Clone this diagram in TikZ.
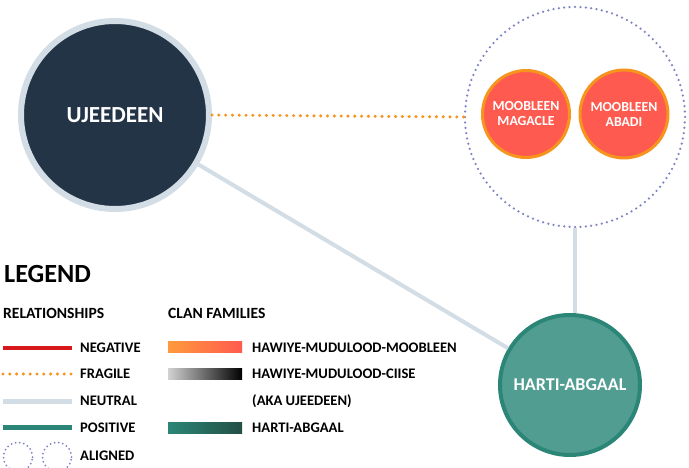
\documentclass[tikz,border=0pt]{standalone}
\usepackage{fontspec}
\setmainfont{Carlito}
\usetikzlibrary{shapes.geometric}
\definecolor{navy}{HTML}{243447}
\definecolor{paleblue}{HTML}{D3DDE5}
\definecolor{coral}{HTML}{FF5A4F}
\definecolor{amber}{HTML}{F7941D}
\definecolor{tealfill}{HTML}{529D91}
\definecolor{tealline}{HTML}{2B8677}
\definecolor{tealdark}{HTML}{234F45}
\definecolor{lilac}{HTML}{7E84C4}
\definecolor{negred}{HTML}{D7191C}
\definecolor{orangeA}{HTML}{FF9A3C}
\definecolor{redB}{HTML}{FF5A4F}
\tikzset{
  x=1pt, y=-1pt,
  lbl/.style={anchor=west, inner sep=0pt, font=\bfseries\fontsize{14.6}{16}\selectfont, text=black},
  hdr/.style={anchor=west, inner sep=0pt, font=\bfseries\fontsize{15.6}{17}\selectfont, text=black},
  neutralline/.style={draw=paleblue, line width=4pt},
  fragileline/.style={draw=amber, line width=3.4pt, line cap=round, dash pattern=on 0pt off 6.8pt},
  alignedring/.style={draw=lilac, line width=2.5pt, line cap=round, dash pattern=on 0pt off 5.4pt},
  clanbar/.style={minimum width=74pt, minimum height=11pt, inner sep=0pt, anchor=west},
}
\begin{document}
\begin{tikzpicture}
\useasboundingbox[fill=white] (0,0) rectangle (689,468);
% main circles
\node[circle, fill=navy, draw=paleblue, line width=6pt, minimum size=188pt, inner sep=0pt,
  text=white, font=\bfseries\fontsize{23}{26}\selectfont] (uj) at (115,115) {UJEEDEEN};
\node[circle, alignedring, minimum size=220pt, inner sep=0pt] (aligned) at (575,117) {};
\node[circle, fill=coral, draw=amber, line width=3pt, minimum size=87pt, inner sep=0pt,
  text=white, align=center, font=\bfseries\fontsize{13.8}{15}\selectfont] (magacle) at (526,114) {MOOBLEEN\\MAGACLE};
\node[circle, fill=coral, draw=amber, line width=3pt, minimum size=88pt, inner sep=0pt,
  text=white, align=center, font=\bfseries\fontsize{13.8}{15}\selectfont] (abadi) at (624,114) {MOOBLEEN\\ABADI};
\node[circle, fill=tealfill, draw=tealline, line width=4pt, minimum size=140pt, inner sep=0pt,
  text=white, font=\bfseries\fontsize{18}{20}\selectfont] (harti) at (570,385) {HARTI-ABGAAL};
% connectors
\draw[fragileline] (uj.east) -- (aligned.west);
\draw[neutralline] (uj) -- (harti);
\draw[neutralline] (aligned.south) -- (aligned.south |- harti.north);
% legend
\node[anchor=west, inner sep=0pt, font=\bfseries\fontsize{26.2}{29}\selectfont] (legend) at (4,274) {LEGEND};
\node[hdr] (rel) at (3,313) {RELATIONSHIPS};
\node[hdr] (clan) at (168,313) {CLAN FAMILIES};
\coordinate (n0) at (3,348); \coordinate (n1) at (72,348);
\draw[negred, line width=4.5pt] (n0) -- (n1);
\coordinate (f0) at (3,374); \coordinate (f1) at (72,374);
\draw[fragileline] (f0) -- (f1);
\coordinate (u0) at (3,401); \coordinate (u1) at (72,401);
\draw[neutralline, line width=5pt] (u0) -- (u1);
\coordinate (p0) at (3,427); \coordinate (p1) at (72,427);
\draw[tealline, line width=5pt] (p0) -- (p1);
\node[circle, alignedring, line width=2pt, dash pattern=on 0pt off 4.2pt, minimum size=29pt, inner sep=0pt] (al1) at (18,457) {};
\node[circle, alignedring, line width=2pt, dash pattern=on 0pt off 4.2pt, minimum size=29pt, inner sep=0pt] (al2) at (57,457) {};
\node[lbl] (tneg) at (80,348) {NEGATIVE};
\node[lbl] (tfra) at (80,374) {FRAGILE};
\node[lbl] (tneu) at (80,401) {NEUTRAL};
\node[lbl] (tpos) at (80,428) {POSITIVE};
\node[lbl] (tali) at (80,456) {ALIGNED};
\node[clanbar, left color=orangeA, right color=redB] (b1) at (168,347) {};
\node[clanbar, left color=black!18, right color=black] (b2) at (168,374) {};
\node[clanbar, left color=tealline, right color=tealdark] (b3) at (168,428) {};
\node[lbl] (c1) at (252,348) {HAWIYE-MUDULOOD-MOOBLEEN};
\node[lbl] (c2) at (252,374) {HAWIYE-MUDULOOD-CIISE};
\node[lbl] (c3) at (252,401) {(AKA UJEEDEEN)};
\node[lbl] (c4) at (252,428) {HARTI-ABGAAL};
\end{tikzpicture}
\end{document}
